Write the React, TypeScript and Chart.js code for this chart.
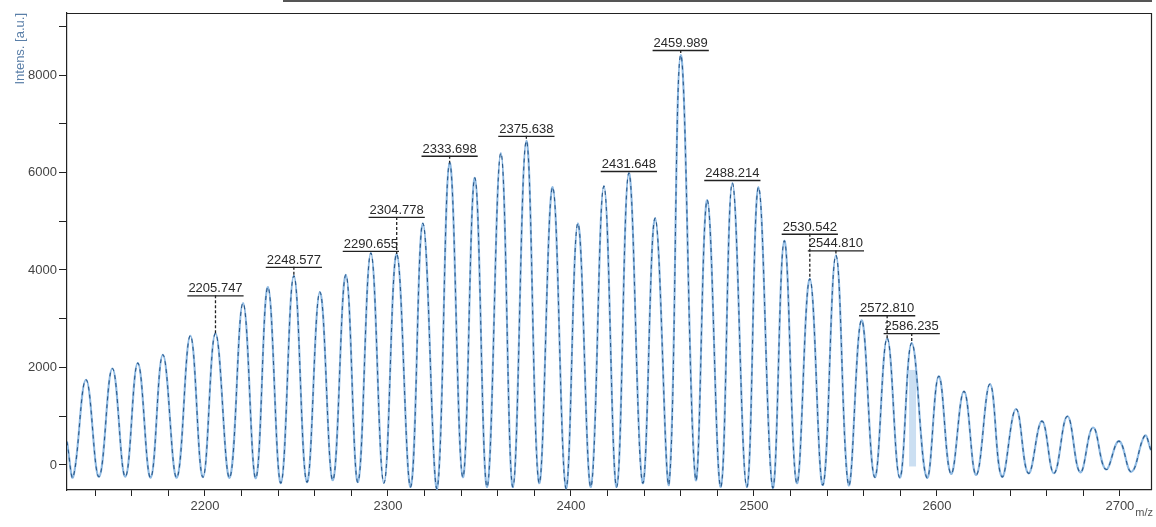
import { useEffect, useRef } from 'react';
import { Chart, registerables } from 'chart.js';

Chart.register(...registerables);

// ---- data (m/z, intensity in a.u.) ----
const peakMz = [
  2135.0, 2149.4, 2163.3, 2177.0, 2192.0, 2205.747, 2220.8, 2234.4, 2248.577, 2262.8,
  2277.0, 2290.655, 2304.778, 2319.1, 2333.698, 2347.5, 2361.7, 2375.638, 2390.0, 2403.8,
  2418.0, 2431.648, 2446.0, 2459.989, 2474.5, 2488.214, 2502.5, 2516.6, 2530.542, 2544.81,
  2558.8, 2572.81, 2586.235, 2601.0, 2614.8, 2629.0, 2643.2, 2657.4, 2671.3, 2685.3,
  2699.5, 2713.6,
];
const peakIntensity = [
  1750, 1980, 2090, 2260, 2650, 2700, 3320, 3650, 3880, 3550,
  3900, 4350, 4330, 4960, 6200, 5890, 6400, 6650, 5700, 4960,
  5720, 5990, 5065, 8410, 5435, 5785, 5700, 4600, 3820, 4300,
  2970, 2600, 2500, 1820, 1510, 1660, 1150, 900, 1000, 770,
  490, 600,
];
const valleyMz = [
  2128.0, 2142.1, 2156.5, 2170.3, 2184.6, 2198.9, 2213.5, 2227.8, 2241.5, 2255.7,
  2269.9, 2283.6, 2297.8, 2312.4, 2326.8, 2340.9, 2354.2, 2368.3, 2382.6, 2397.3,
  2410.9, 2425.0, 2439.2, 2453.5, 2468.2, 2481.9, 2496.1, 2510.3, 2523.4, 2537.7,
  2551.8, 2566.0, 2579.7, 2594.5, 2607.7, 2621.5, 2635.5, 2650.0, 2664.0, 2678.3,
  2692.3, 2706.3,
];
const valleyIntensity = [
  -240, -240, -240, -260, -260, -250, -260, -270, -370, -350,
  -310, -350, -370, -450, -490, -250, -450, -450, -370, -480,
  -450, -450, -370, -410, -310, -450, -450, -470, -370, -410,
  -420, -250, -260, -260, -180, -205, -240, -170, -170, -150,
  -90, -140,
];
const edgeMz = [2124.6, 2717.0];
const edgeIntensity = [480, 300];

// labelled peaks
const labelledMz = [
  2205.747, 2248.577, 2290.655, 2304.778, 2333.698, 2375.638, 2431.648,
  2459.989, 2488.214, 2530.542, 2544.81, 2572.81, 2586.235,
];
const labelTexts = [
  '2205.747', '2248.577', '2290.655', '2304.778', '2333.698', '2375.638', '2431.648',
  '2459.989', '2488.214', '2530.542', '2544.810', '2572.810', '2586.235',
];
// vertical lift (px) of each label above its peak apex
const labelLift = [36, 7, 0, 35, 5, 3, 0, 3, 1, 43, 3, 21, 8];

// tick values
const xTickValues = [
  2140, 2160, 2180, 2200, 2220, 2240, 2260, 2280, 2300, 2320, 2340, 2360, 2380, 2400,
  2420, 2440, 2460, 2480, 2500, 2520, 2540, 2560, 2580, 2600, 2620, 2640, 2660, 2680, 2700,
];
const xLabelled = [2200, 2300, 2400, 2500, 2600, 2700];
const yTickValues = [0, 1000, 2000, 3000, 4000, 5000, 6000, 7000, 8000, 9000];
const yLabelled = [0, 2000, 4000, 6000, 8000];

// highlighted band (selection) under 2586 peak
const bandMz = [2584.8, 2588.6];
const bandIntensity = [-30, 1950];

const X_MIN = 2124.6;
const X_MAX = 2717.0;
const Y_MIN = -513;
const Y_MAX = 9272;

const FONT = '"Liberation Sans", Arial, sans-serif';

function buildTrace() {
  const pts: { x: number; y: number }[] = [];
  edgeMz.forEach((m, i) => pts.push({ x: m, y: edgeIntensity[i] }));
  peakMz.forEach((m, i) => pts.push({ x: m, y: peakIntensity[i] }));
  valleyMz.forEach((m, i) => pts.push({ x: m, y: valleyIntensity[i] }));
  pts.sort((a, b) => a.x - b.x);
  return pts;
}

const annotatePlugin = {
  id: 'msAnnotate',
  beforeDatasetsDraw(chart: any) {
    const { ctx, scales } = chart;
    const x = scales.x, y = scales.y;
    ctx.save();
    ctx.fillStyle = 'rgba(185, 212, 238, 0.75)';
    const x0 = x.getPixelForValue(bandMz[0]);
    const x1 = x.getPixelForValue(bandMz[1]);
    const y0 = y.getPixelForValue(bandIntensity[1]);
    const y1 = y.getPixelForValue(bandIntensity[0]);
    ctx.fillRect(x0, y0, x1 - x0, y1 - y0);
    ctx.restore();
  },
  afterDraw(chart: any) {
    const { ctx, chartArea, scales } = chart;
    const x = scales.x, y = scales.y;
    ctx.save();
    // frame top & right
    ctx.strokeStyle = '#222';
    ctx.lineWidth = 1.2;
    ctx.beginPath();
    ctx.moveTo(chartArea.left, chartArea.top + 0.5);
    ctx.lineTo(chartArea.right + 0.5, chartArea.top + 0.5);
    ctx.lineTo(chartArea.right + 0.5, chartArea.bottom);
    ctx.stroke();

    // scan edge line at very top
    ctx.strokeStyle = '#555';
    ctx.lineWidth = 2;
    ctx.beginPath();
    ctx.moveTo(283, 1);
    ctx.lineTo(chartArea.right + 1, 1);
    ctx.stroke();

    // peak labels
    ctx.font = `13px ${FONT}`;
    ctx.textAlign = 'center';
    ctx.textBaseline = 'alphabetic';
    labelledMz.forEach((mz, i) => {
      const idx = peakMz.indexOf(mz);
      const val = peakIntensity[idx];
      const px = x.getPixelForValue(mz);
      const py = y.getPixelForValue(val);
      const uy = py - 2 - labelLift[i];
      const text = labelTexts[i];
      const w = ctx.measureText(text).width;
      ctx.fillStyle = '#2a2a2a';
      ctx.fillText(text, px, uy - 3);
      ctx.strokeStyle = '#222';
      ctx.lineWidth = 1.3;
      ctx.setLineDash([]);
      ctx.beginPath();
      ctx.moveTo(px - w / 2 - 1, uy + 0.5);
      ctx.lineTo(px + w / 2 + 1, uy + 0.5);
      ctx.stroke();
      if (py - uy > 3) {
        ctx.setLineDash([3, 2]);
        ctx.beginPath();
        ctx.moveTo(px, uy);
        ctx.lineTo(px, py);
        ctx.stroke();
        ctx.setLineDash([]);
      }
    });

    // m/z axis caption
    ctx.font = `11px ${FONT}`;
    ctx.fillStyle = '#555';
    ctx.textAlign = 'right';
    ctx.textBaseline = 'alphabetic';
    ctx.fillText('m/z', chartArea.right + 2, chartArea.bottom + 26);
    ctx.restore();
  },
};

export default function App() {
  const ref = useRef<HTMLCanvasElement>(null);
  useEffect(() => {
    if (!ref.current) return;
    const trace = buildTrace();
    const chart = new Chart(ref.current, {
      type: 'line',
      data: {
        datasets: [
          {
            data: trace,
            borderColor: '#2c5a8a',
            borderWidth: 1.1,
            borderDash: [4, 4],
            pointRadius: 0,
            tension: 0.42,
            fill: false,
            order: 0,
          },
          {
            data: trace,
            borderColor: '#8fbae3',
            borderWidth: 2.1,
            pointRadius: 0,
            tension: 0.42,
            fill: false,
            order: 1,
          },
        ],
      },
      options: {
        animation: false,
        responsive: true,
        maintainAspectRatio: false,
        layout: { padding: { left: 0, right: 5, top: 13, bottom: 0 } },
        plugins: {
          legend: { display: false },
          tooltip: { enabled: false },
        },
        scales: {
          x: {
            type: 'linear',
            min: X_MIN,
            max: X_MAX,
            grid: {
              display: true,
              drawOnChartArea: false,
              drawTicks: true,
              tickLength: 6,
              color: '#222',
            },
            border: { display: true, color: '#222', width: 1.2 },
            ticks: {
              autoSkip: false,
              maxRotation: 0,
              padding: 3,
              color: '#444',
              font: { family: FONT, size: 13 },
              callback: (v: any) => {
                const r = Math.round(Number(v));
                return xLabelled.includes(r) ? String(r) : '';
              },
            },
            afterBuildTicks: (s: any) => {
              s.ticks = xTickValues.map((v) => ({ value: v }));
            },
            afterFit: (s: any) => {
              s.height = 37;
            },
          },
          y: {
            min: Y_MIN,
            max: Y_MAX,
            grid: {
              display: true,
              drawOnChartArea: false,
              drawTicks: true,
              tickLength: 8,
              color: '#222',
            },
            border: { display: true, color: '#222', width: 1.2 },
            title: {
              display: true,
              text: 'Intens. [a.u.]',
              align: 'end',
              color: '#5a7fa8',
              font: { family: FONT, size: 13 },
              padding: { top: 13, bottom: 0 },
            },
            ticks: {
              autoSkip: false,
              padding: 2,
              color: '#444',
              font: { family: FONT, size: 13 },
              callback: (v: any) => {
                const r = Math.round(Number(v));
                return yLabelled.includes(r) ? String(r) : '';
              },
            },
            afterBuildTicks: (s: any) => {
              s.ticks = yTickValues.map((v) => ({ value: v }));
            },
            afterFit: (s: any) => {
              s.width = 67;
            },
          },
        },
      },
      plugins: [annotatePlugin],
    });
    return () => chart.destroy();
  }, []);

  return (
    <div style={{ position: 'absolute', left: 0, top: 0, width: 1156, height: 527, background: '#fff' }}>
      <canvas ref={ref} />
    </div>
  );
}
